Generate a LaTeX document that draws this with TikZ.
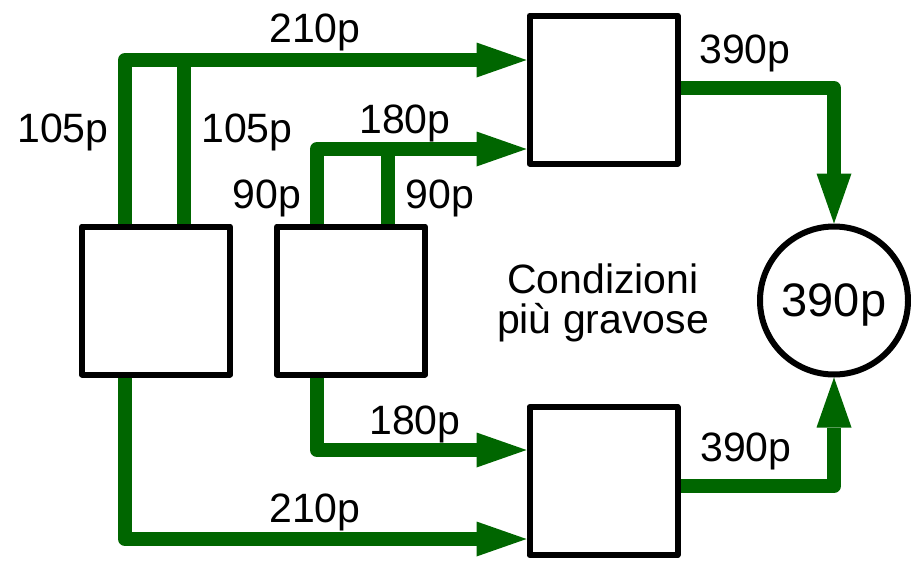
\documentclass[tikz,border=0pt]{standalone}
\usepackage{fontspec}
\setmainfont{Liberation Sans}
\usetikzlibrary{arrows.meta}
\definecolor{flowgreen}{RGB}{0,102,0}
\begin{document}
\begin{tikzpicture}[x=1pt,y=-1pt,
  box/.style={draw, line width=6pt, line join=round, minimum width=148pt, minimum height=148pt, inner sep=0pt},
  ring/.style={draw, circle, line width=6pt, minimum size=148pt, inner sep=0pt, text depth=0pt, font=\fontsize{47}{47}\selectfont},
  flow/.style={draw=flowgreen, line width=14pt, line join=round, -{Triangle[length=50pt,width=35pt,line width=0pt]}},
  flowline/.style={draw=flowgreen, line width=14pt},
  lbl/.style={font=\fontsize{41}{41}\selectfont, anchor=base, inner sep=0pt}]
\path[use as bounding box] (0,0) rectangle (911,560);
% nodes
\node[box] (A) at (156,300.5) {};
\node[box] (B) at (351,300.5) {};
\node[box] (C) at (603.5,89.5) {};
\node[box] (D) at (603.5,481) {};
\node[ring] (O) at (834,300.5) {390p};
% guide coordinates
\coordinate (xA1) at (125,0);
\coordinate (xA2) at (184,0);
\coordinate (xB1) at (317,0);
\coordinate (xB2) at (388,0);
\coordinate (yTop) at (0,60);
\coordinate (yTop2) at (0,149);
\coordinate (yBot2) at (0,450);
\coordinate (yBot) at (0,539);
\coordinate (yR1) at (0,88);
\coordinate (yR2) at (0,486);
% connectors
\draw[flow] (A.north -| xA1) |- (C.west |- yTop);
\draw[flowline] (A.north -| xA2) -- (xA2 |- yTop);
\draw[flow] (B.north -| xB1) |- (C.west |- yTop2);
\draw[flowline] (B.north -| xB2) -- (xB2 |- yTop2);
\draw[flow] (A.south -| xA1) |- (D.west |- yBot);
\draw[flow] (B.south -| xB1) |- (D.west |- yBot2);
\draw[flow] (C.east |- yR1) -| (O.north);
\draw[flow] (D.east |- yR2) -| (O.south);
% labels
\node[lbl] (l1) at (315,42) {210p};
\node[lbl] (l2) at (63,142) {105p};
\node[lbl] (l3) at (247,142) {105p};
\node[lbl] (l4) at (405,133) {180p};
\node[lbl] (l5) at (267,208) {90p};
\node[lbl] (l6) at (440,208) {90p};
\node[lbl] (l7) at (415,434) {180p};
\node[lbl] (l8) at (315,522) {210p};
\node[lbl] (l9) at (745,63) {390p};
\node[lbl] (l10) at (746,461) {390p};
\node[lbl] (cond1) at (603,293) {Condizioni};
\node[lbl] (cond2) at (603,333) {più gravose};
\end{tikzpicture}
\end{document}
